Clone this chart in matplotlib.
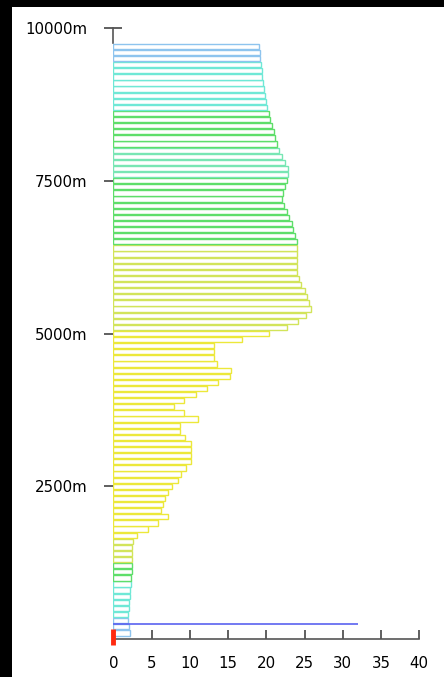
import matplotlib
matplotlib.use("Agg")
from matplotlib import pyplot as plt
from matplotlib.patches import Rectangle
import numpy as np

# elevation bins (m, bin centres) and bar lengths, read bottom -> top
elev = np.arange(100, 9800, 100)
values = [
    2.2, 2.0, 1.9, 1.95, 2.05, 2.1, 2.2, 2.2, 2.25, 2.35,          # 100-1000
    2.4, 2.45, 2.5, 2.5, 2.5, 2.6, 3.1, 4.5, 5.8, 7.1,             # 1100-2000
    6.2, 6.5, 6.8, 7.2, 7.7, 8.4, 8.9, 9.5, 10.1, 10.1,            # 2100-3000
    10.1, 10.1, 9.4, 8.7, 8.7, 11.1, 9.2, 7.9, 9.3, 10.8,          # 3100-4000
    12.2, 13.7, 15.2, 15.4, 13.5, 13.1, 13.1, 13.2, 16.8, 20.3,    # 4100-5000
    22.7, 24.2, 25.2, 25.8, 25.6, 25.3, 25.0, 24.6, 24.3, 24.05,   # 5100-6000
    24.05, 24.05, 24.05, 24.05, 24.0, 23.7, 23.5, 23.3, 23.0, 22.7,  # 6100-7000
    22.3, 22.1, 22.2, 22.5, 22.7, 22.9, 22.9, 22.4, 22.0, 21.7,    # 7100-8000
    21.4, 21.2, 21.0, 20.7, 20.5, 20.3, 20.1, 19.9, 19.8, 19.7,    # 8100-9000
    19.6, 19.5, 19.4, 19.35, 19.2, 19.15, 19.1,                    # 9100-9700
]
# colour zone of each bin
zones = (["sky"] * 3 + ["aqua"] * 6 + ["green"] * 3 + ["lime"] * 4 +
         ["yellow"] * 34 + ["lime"] * 14 + ["green"] * 11 + ["mint"] * 5 +
         ["green"] * 6 + ["aqua"] * 8 + ["sky"] * 3)

marker_elev = 250      # single long line
marker_value = 32.0
station_elev = 0

y_ticks = [2500, 5000, 7500, 10000]
y_labels = ["2500m", "5000m", "7500m", "10000m"]
x_ticks = [0, 5, 10, 15, 20, 25, 30, 35, 40]

zone_colors = {
    "sky": "#8ec4ee",
    "aqua": "#6fe8d6",
    "green": "#5ede6a",
    "mint": "#78e6b4",
    "lime": "#d2e45a",
    "yellow": "#ece83a",
}

W, H = 444, 677
fig = plt.figure(figsize=(W / 100, H / 100), dpi=100)
fig.patch.set_facecolor("white")
# black frame strips (top / left)
fig.patches.append(Rectangle((0, 1 - 7 / H), 1, 7 / H, transform=fig.transFigure,
                             facecolor="black", edgecolor="none", zorder=0))
fig.patches.append(Rectangle((0, 0), 12 / W, 1, transform=fig.transFigure,
                             facecolor="black", edgecolor="none", zorder=0))

ax = fig.add_axes([113.3 / W, 38 / H, 306 / W, 611 / H])
ax.set_xlim(0, 40)
ax.set_ylim(0, 10000)

cols = [zone_colors[z] for z in zones]
ax.barh(elev, values, height=86, color="white", edgecolor=cols,
        linewidth=1.0, zorder=3)
ax.hlines(marker_elev, 0, marker_value, color="#5a62f0", linewidth=1.2, zorder=4)
ax.plot([0], [station_elev + 25], marker="|", markersize=11, markeredgewidth=3.5,
        color="#ff2a10", clip_on=False, zorder=5)

for s in ["top", "right"]:
    ax.spines[s].set_visible(False)
ax.spines["left"].set_color("#555555")
ax.spines["bottom"].set_color("#555555")
ax.spines["left"].set_linewidth(1.2)
ax.spines["bottom"].set_linewidth(1.2)
# y axis line only shows above the top bar
ax.spines["left"].set_bounds(elev[-1] + 50, 10000)

ax.set_xticks(x_ticks)
ax.set_xticklabels([str(v) for v in x_ticks])
ax.set_yticks(y_ticks)
ax.set_yticklabels(y_labels)
ax.tick_params(axis="x", direction="in", length=6.5, width=1.2, color="#444444",
               pad=12, labelsize=10.8)
ax.tick_params(axis="y", direction="inout", length=13, width=1.2, color="#444444",
               pad=12, labelsize=10.8)

fig.savefig("out.png", dpi=100, facecolor="white")
